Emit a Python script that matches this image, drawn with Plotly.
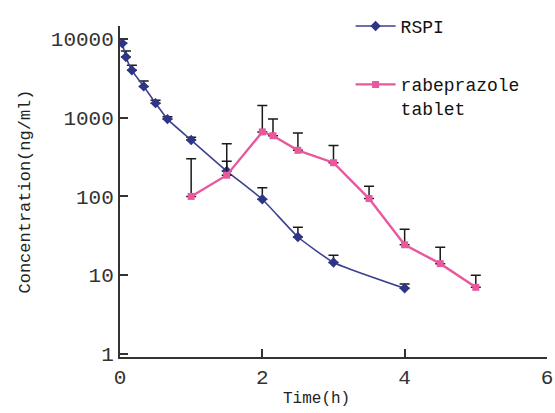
import plotly.graph_objects as go

# RSPI
rspi_t = [0.033, 0.083, 0.167, 0.333, 0.5, 0.667, 1.0, 1.5, 2.0, 2.5, 3.0, 4.0]
rspi_c = [8800, 5900, 4000, 2500, 1530, 960, 520, 210, 92, 30.5, 14.5, 6.8]
rspi_err = [1200, 1150, 650, 420, 140, 70, 45, 70, 37, 10, 3.4, 0.9]

# rabeprazole tablet
tab_t = [1.0, 1.5, 2.0, 2.15, 2.5, 3.0, 3.5, 4.0, 4.5, 5.0]
tab_c = [100, 186, 660, 590, 385, 268, 94, 24.3, 14, 7.0]
tab_err = [200, 280, 770, 370, 255, 175, 41, 14, 8.6, 3.0]

x_ticks = [0, 2, 4, 6]
y_ticks = [1, 10, 100, 1000, 10000]

MONO = "Liberation Mono"
BLUE = "#2f3585"
PINK = "#e9589d"

fig = go.Figure()
fig.add_trace(go.Scatter(
    x=rspi_t, y=rspi_c, name="RSPI", legendgroup="a",
    mode="lines+markers",
    line=dict(color="#3d428f", width=1.6, shape="spline", smoothing=0.4),
    marker=dict(symbol="diamond", size=8, color=BLUE),
    error_y=dict(type="data", symmetric=False, array=rspi_err,
                 arrayminus=[0] * len(rspi_err), color="#1a1a1a",
                 thickness=1.5, width=5),
))
fig.add_trace(go.Scatter(
    x=tab_t, y=tab_c, name="rabeprazole<br>tablet", legendgroup="b",
    mode="lines+markers",
    line=dict(color=PINK, width=2.4),
    marker=dict(symbol="square", size=7, color=PINK),
    error_y=dict(type="data", symmetric=False, array=tab_err,
                 arrayminus=[0] * len(tab_err), color="#1a1a1a",
                 thickness=1.5, width=5),
))

fig.add_annotation(text="Time(h)", xref="paper", yref="paper",
                   x=(316 - 120) / 427, y=-(400 - 357) / 336,
                   xanchor="center", yanchor="middle", showarrow=False,
                   font=dict(family=MONO, size=16, color="#222"))

fig.update_layout(
    width=555, height=413,
    margin=dict(l=120, r=8, t=21, b=56),
    paper_bgcolor="white", plot_bgcolor="white",
    font=dict(family=MONO, color="#222"),
    legend=dict(x=0.54, y=1.055, xanchor="left", yanchor="top",
                font=dict(family=MONO, size=18, color="#111"),
                bgcolor="rgba(0,0,0,0)", tracegroupgap=32, valign="top",
                itemwidth=40),
    xaxis=dict(range=[0, 6.0005], tickvals=x_ticks, ticktext=[str(v) for v in x_ticks],
               ticks="inside", ticklen=8, tickwidth=1.5, tickcolor="#333",
               showline=True, linecolor="#333", linewidth=2,
               showgrid=False, zeroline=False, ticklabeloverflow="allow",
               automargin=False,
               tickfont=dict(family=MONO, size=21, color="#333")),
    yaxis=dict(type="log", range=[-0.04, 4.165], tickvals=y_ticks,
               ticktext=[str(v) for v in y_ticks],
               ticks="inside", ticklen=8, tickwidth=1.5, tickcolor="#333",
               showline=True, linecolor="#333", linewidth=2,
               showgrid=False, zeroline=False, automargin=False,
               tickfont=dict(family=MONO, size=21, color="#333"),
               title=dict(text="Concentration(ng/ml)",
                          font=dict(family=MONO, size=17, color="#222"),
                          standoff=16)),
)
fig.write_html("out.html")
